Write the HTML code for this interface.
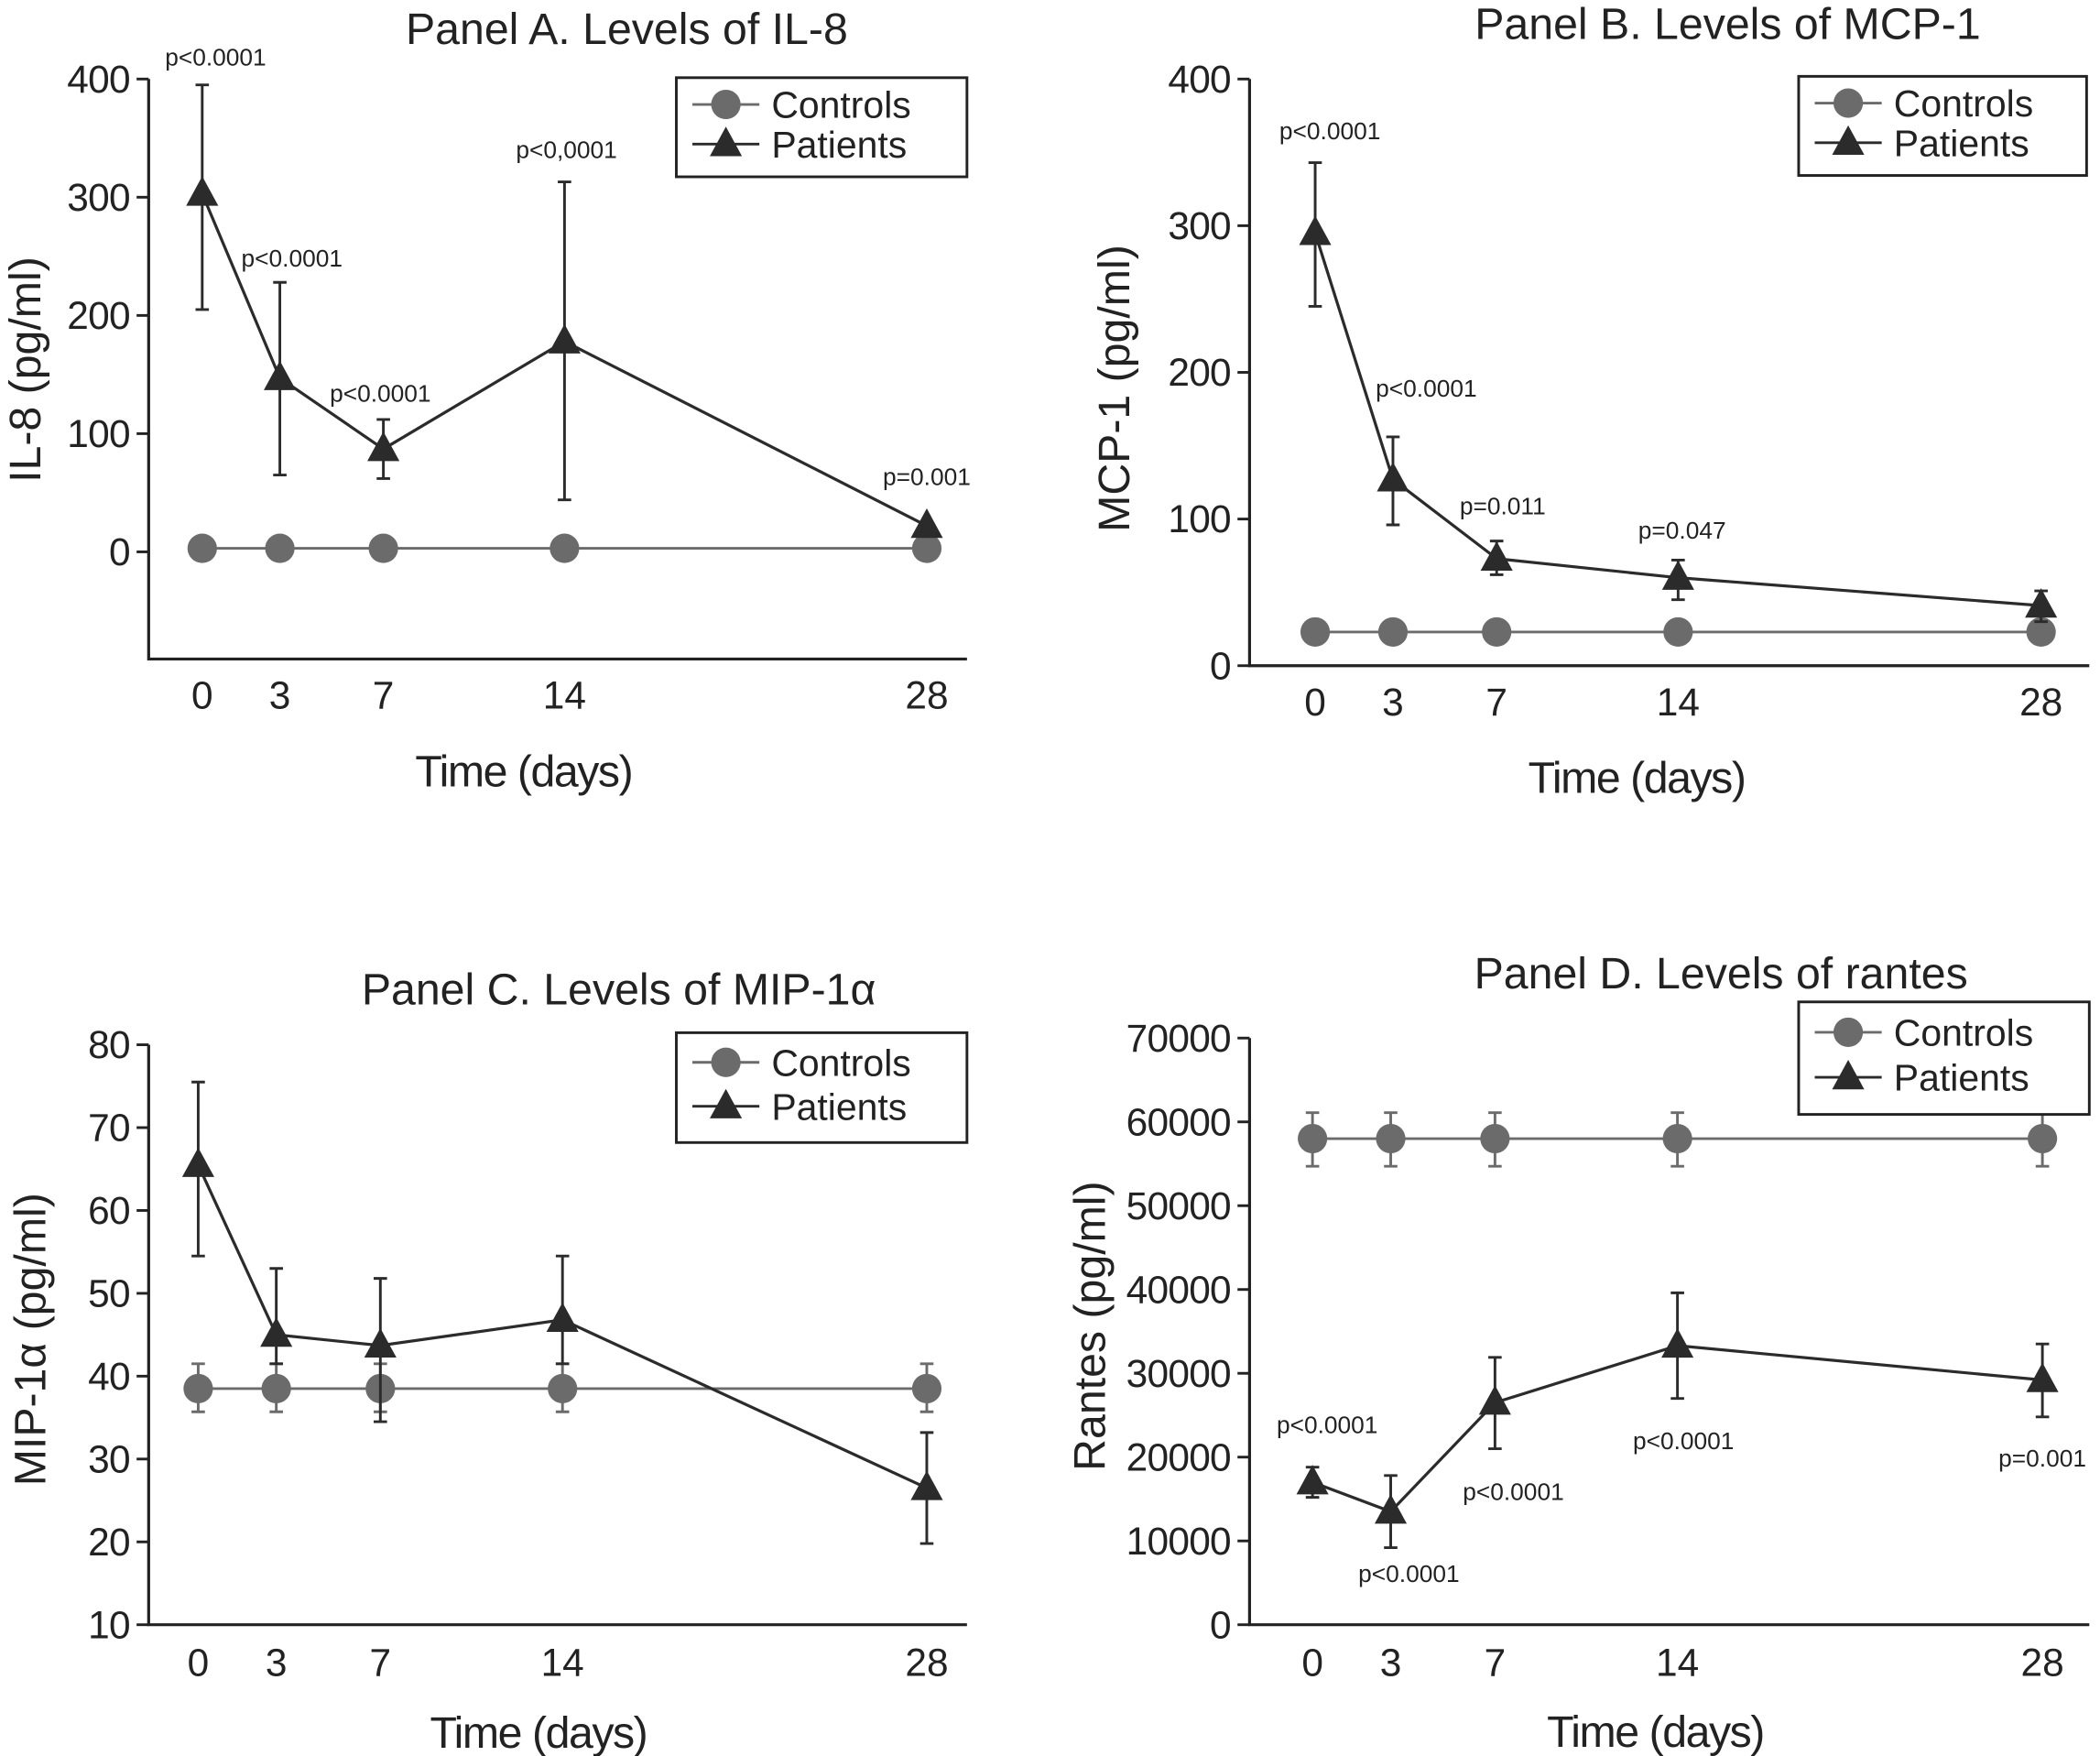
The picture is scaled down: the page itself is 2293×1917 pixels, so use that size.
<!DOCTYPE html>
<html><head><meta charset="utf-8"><style>
html,body{margin:0;padding:0;background:#fff;}
svg{display:block;font-family:"Liberation Sans",Arial,sans-serif;}
</style></head><body>
<svg id="fig" width="2293" height="1917" viewBox="0 0 1568 1311" preserveAspectRatio="none" xmlns="http://www.w3.org/2000/svg"></svg>
<script>
const days = [0, 3, 7, 14, 28];
const xTickLabels = ["0", "3", "7", "14", "28"];
// Panel A IL-8
const aControls = [3, 3, 3, 3, 3];
const aPatients = [303, 147, 87, 178, 22];
const aPatLo = [205, 65, 62, 44, 22];
const aPatHi = [395, 228, 112, 313, 22];
const aTicks = [0, 100, 200, 300, 400];
const aPLabels = ["p<0.0001", "p<0.0001", "p<0.0001", "p<0,0001", "p=0.001"];
// Panel B MCP-1
const bControls = [23, 23, 23, 23, 23];
const bPatients = [295, 127, 73, 60, 41];
const bPatLo = [245, 96, 62, 45, 30];
const bPatHi = [343, 156, 85, 72, 51];
const bTicks = [0, 100, 200, 300, 400];
const bPLabels = ["p<0.0001", "p<0.0001", "p=0.011", "p=0.047", ""];
// Panel C MIP-1a
const cControls = [38.5, 38.5, 38.5, 38.5, 38.5];
const cCtrlLo = [35.7, 35.7, 35.7, 35.7, 35.7];
const cCtrlHi = [41.5, 41.5, 41.5, 41.5, 41.5];
const cPatients = [65.5, 45, 43.7, 46.8, 26.5];
const cPatLo = [54.5, 41.5, 34.5, 41.5, 19.8];
const cPatHi = [75.5, 53, 51.8, 54.5, 33.2];
const cTicks = [10, 20, 30, 40, 50, 60, 70, 80];
// Panel D Rantes
const dControls = [58000, 58000, 58000, 58000, 58000];
const dCtrlLo = [54700, 54700, 54700, 54700, 54700];
const dCtrlHi = [61100, 61100, 61100, 61100, 61100];
const dPatients = [17000, 13500, 26500, 33300, 29200];
const dPatLo = [15200, 9200, 21000, 27000, 24800];
const dPatHi = [18800, 17800, 31900, 39600, 33500];
const dTicks = [0, 10000, 20000, 30000, 40000, 50000, 60000, 70000];
const dPLabels = ["p<0.0001", "p<0.0001", "p<0.0001", "p<0.0001", "p=0.001"];

const NS = "http://www.w3.org/2000/svg";
const svg = document.getElementById("fig");
function mk(tag, attrs, parent, text) {
  const e = document.createElementNS(NS, tag);
  for (const k in attrs) e.setAttribute(k, attrs[k]);
  if (text !== undefined) e.textContent = text;
  (parent || svg).appendChild(e);
  return e;
}
const CC = "#6b6b6b", PC = "#2b2b2b";

function panel(cfg) {
  const g = mk("g", {});
  
  
  const X = d => cfg.x0 + (cfg.x28 - cfg.x0) * d / 28;
  const Y = v => cfg.yB + (cfg.yT - cfg.yB) * (v - cfg.vB) / (cfg.vT - cfg.vB);
  const ax = mk("path", {d: `M${cfg.ax} ${cfg.axTop} V${cfg.axBot} H${cfg.axRight}`, fill: "none", stroke: "#222", "stroke-width": 2.2}, g);
  
  
  cfg.ticks.forEach(t => {
    mk("line", {x1: cfg.ax - 9, x2: cfg.ax, y1: Y(t), y2: Y(t), stroke: "#222", "stroke-width": 2}, g);
    const tl = mk("text", {x: cfg.ax - 14, y: Y(t) + 10, "text-anchor": "end", "font-size": 29, fill: "#222", "letter-spacing": -0.5}, g, String(t));
    
    
  });
  days.forEach((d, i) => {
    const tl = mk("text", {x: X(d), y: cfg.xLabY + 1, "text-anchor": "middle", "font-size": 29, fill: "#222"}, g, xTickLabels[i]);
    
    
  });
  const tt = mk("text", {x: cfg.titleX, y: cfg.titleY, "text-anchor": "middle", "font-size": 33, fill: "#222"}, g, cfg.title);
  
  
  const xt = mk("text", {x: cfg.xtX, y: cfg.xtY, "text-anchor": "middle", "font-size": 33, fill: "#222", "letter-spacing": -1}, g, "Time (days)");
  
  
  const yt = mk("text", {x: 0, y: 0, "text-anchor": "middle", "font-size": 33, fill: "#222", transform: `translate(${cfg.ytX},${cfg.ytY}) rotate(-90)`}, g, cfg.ytitle);
  
  
  function err(lo, hi, col, nm) {
    if (!lo) return;
    days.forEach((d, i) => {
      if (hi[i] === lo[i]) return;
      const x = X(d);
      const e = mk("path", {d: `M${x} ${Y(lo[i])} V${Y(hi[i])} M${x - 5} ${Y(lo[i])} H${x + 5} M${x - 5} ${Y(hi[i])} H${x + 5}`, stroke: col, "stroke-width": 2, fill: "none"}, g);
      
      
    });
  }
  err(cfg.cLo, cfg.cHi, CC, 'controls-error-bar');
  const cl = mk("polyline", {points: days.map((d, i) => `${X(d)},${Y(cfg.ctrl[i])}`).join(" "), fill: "none", stroke: CC, "stroke-width": 2}, g);
  
  
  days.forEach((d, i) => {
    const c = mk("circle", {cx: X(d), cy: Y(cfg.ctrl[i]), r: 11, fill: CC}, g);
    
    
  });
  err(cfg.pLo, cfg.pHi, PC, 'patients-error-bar');
  const pl = mk("polyline", {points: days.map((d, i) => `${X(d)},${Y(cfg.pat[i])}`).join(" "), fill: "none", stroke: PC, "stroke-width": 2.2}, g);
  
  
  days.forEach((d, i) => {
    const x = X(d), y = Y(cfg.pat[i]);
    const t = mk("polygon", {points: `${x},${y - 13} ${x - 12},${y + 9} ${x + 12},${y + 9}`, fill: PC}, g);
    
    
  });
  if (cfg.pl) cfg.pl.forEach((s, i) => {
    if (!s) return;
    const p = mk("text", {x: cfg.plPos[i][0], y: cfg.plPos[i][1], "text-anchor": "middle", "font-size": 18, fill: "#222"}, g, s);
    
    
  });
  const [lx, ly, lw, lh] = cfg.leg;
  const lg = mk("g", {}, g);
  
  
  mk("rect", {x: lx, y: ly, width: lw, height: lh, fill: "#fff", stroke: "#222", "stroke-width": 2}, lg);
  const r1 = ly + lh * 0.27, r2 = ly + lh * 0.67;
  mk("line", {x1: lx + 12, x2: lx + 62, y1: r1, y2: r1, stroke: CC, "stroke-width": 2}, lg);
  mk("circle", {cx: lx + 37, cy: r1, r: 11, fill: CC}, lg);
  mk("line", {x1: lx + 12, x2: lx + 62, y1: r2, y2: r2, stroke: PC, "stroke-width": 2}, lg);
  mk("polygon", {points: `${lx + 37},${r2 - 13} ${lx + 25},${r2 + 9} ${lx + 49},${r2 + 9}`, fill: PC}, lg);
  const e1 = mk("text", {x: lx + 71, y: r1 + 10, "font-size": 28, fill: "#222"}, lg, "Controls");
  
  
  const e2 = mk("text", {x: lx + 71, y: r2 + 10, "font-size": 28, fill: "#222"}, lg, "Patients");
  
  
}

panel({name: "panel-a", title: "Panel A. Levels of IL-8", titleX: 468, titleY: 33,
  ax: 111, axTop: 59, axBot: 492, axRight: 722, x0: 151, x28: 692,
  yB: 412, yT: 59, vB: 0, vT: 400, ticks: aTicks, xLabY: 528, xtX: 391, xtY: 587,
  ytitle: "IL-8 (pg/ml)", ytX: 30, ytY: 276,
  ctrl: aControls, pat: aPatients, pLo: aPatLo, pHi: aPatHi,
  pl: aPLabels, plPos: [[161, 49], [218, 199], [284, 300], [423, 118], [692, 362]],
  leg: [505, 58, 217, 74]});
panel({name: "panel-b", title: "Panel B. Levels of MCP-1", titleX: 1290, titleY: 29,
  ax: 933, axTop: 59, axBot: 497, axRight: 1560, x0: 982, x28: 1524,
  yB: 497, yT: 59, vB: 0, vT: 400, ticks: bTicks, xLabY: 533, xtX: 1222, xtY: 592,
  ytitle: "MCP-1 (pg/ml)", ytX: 843, ytY: 290,
  ctrl: bControls, pat: bPatients, pLo: bPatLo, pHi: bPatHi,
  pl: bPLabels, plPos: [[993, 104], [1065, 296], [1122, 384], [1256, 402], [0, 0]],
  leg: [1343, 57, 215, 74]});
panel({name: "panel-c", title: "Panel C. Levels of MIP-1\u03b1", titleX: 462, titleY: 750,
  ax: 111, axTop: 780, axBot: 1213, axRight: 722, x0: 148, x28: 692,
  yB: 1213, yT: 780, vB: 10, vT: 80, ticks: cTicks, xLabY: 1250, xtX: 402, xtY: 1305,
  ytitle: "MIP-1\u03b1 (pg/ml)", ytX: 34, ytY: 1000,
  ctrl: cControls, cLo: cCtrlLo, cHi: cCtrlHi, pat: cPatients, pLo: cPatLo, pHi: cPatHi,
  leg: [505, 771, 217, 82]});
panel({name: "panel-d", title: "Panel D. Levels of rantes", titleX: 1285, titleY: 738,
  ax: 933, axTop: 775, axBot: 1213, axRight: 1560, x0: 980, x28: 1525,
  yB: 1213, yT: 775, vB: 0, vT: 70000, ticks: dTicks, xLabY: 1250, xtX: 1236, xtY: 1304,
  ytitle: "Rantes (pg/ml)", ytX: 825, ytY: 990,
  ctrl: dControls, cLo: dCtrlLo, cHi: dCtrlHi, pat: dPatients, pLo: dPatLo, pHi: dPatHi,
  pl: dPLabels, plPos: [[991, 1070], [1052, 1181], [1130, 1120], [1257, 1082], [1525, 1095]],
  leg: [1343, 748, 217, 84]});
</script>
</body></html>
